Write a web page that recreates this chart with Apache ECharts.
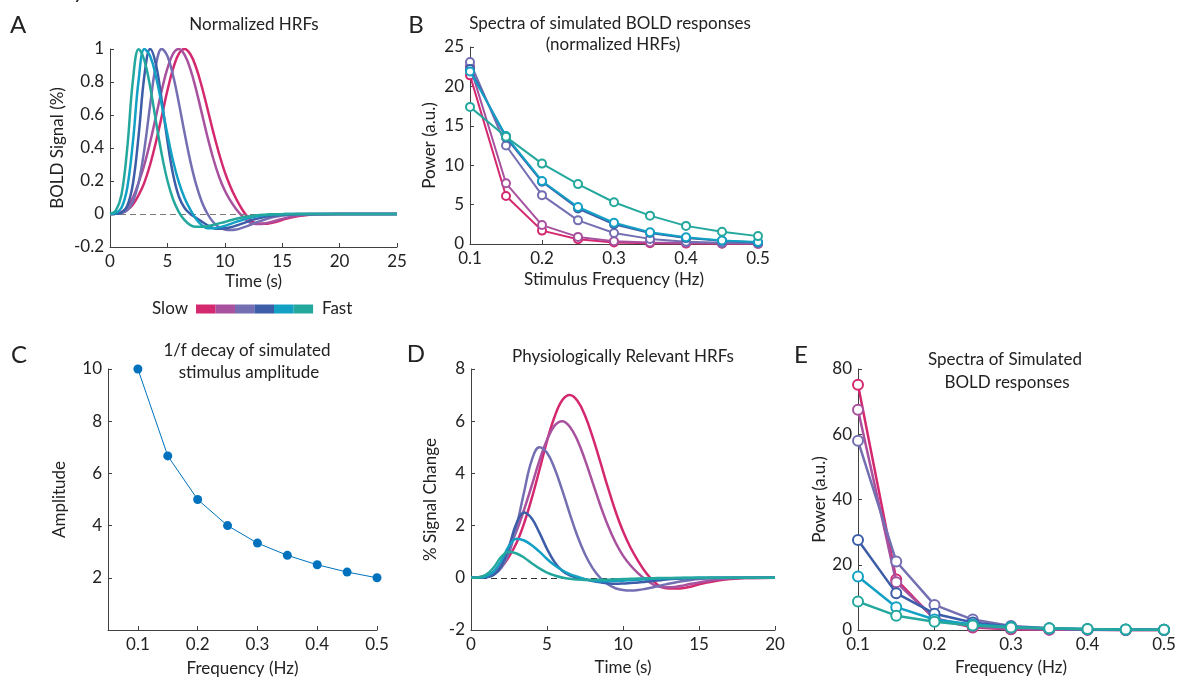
<!DOCTYPE html>
<html><head><meta charset="utf-8">
<script src="https://cdn.jsdelivr.net/npm/echarts@6/dist/echarts.min.js"></script>
<style>html,body{margin:0;padding:0;background:#fff;}#c{width:1179px;height:679px;}</style>
</head><body><div id="c"></div>
<script>
// ---------- DATA ----------
const hrfColors = ['#D4286F','#A8519F','#736FB2','#3D5DA8','#13A0C5','#24A89E']; // slow -> fast
const hrfTime = [0,0.5,1,1.5,2,2.5,3,3.5,4,4.5,5,5.5,6,6.5,7,7.5,8,8.5,9,9.5,10,10.5,11,11.5,12,12.5,13,13.5,14,14.5,15,15.5,16,16.5,17,17.5,18,20,25];

// Panel A: normalized HRFs
const normMagenta = [0,0.002,0.008,0.025,0.058,0.115,0.192,0.300,0.436,0.590,0.748,0.882,0.972,1.000,0.968,0.888,0.771,0.635,0.495,0.366,0.254,0.164,0.091,0.029,-0.019,-0.050,-0.059,-0.059,-0.055,-0.047,-0.036,-0.026,-0.018,-0.012,-0.007,-0.004,-0.002,0,0];
const normPurple = [0,0.003,0.012,0.040,0.100,0.192,0.300,0.436,0.590,0.748,0.882,0.972,1.000,0.965,0.878,0.754,0.610,0.465,0.335,0.226,0.142,0.079,0.029,-0.012,-0.044,-0.059,-0.060,-0.057,-0.049,-0.039,-0.030,-0.021,-0.014,-0.009,-0.005,-0.003,-0.001,0,0];
const normLavender = [0,0.001,0.006,0.024,0.076,0.192,0.395,0.662,0.902,1.000,0.957,0.838,0.672,0.489,0.319,0.179,0.073,0.000,-0.050,-0.080,-0.094,-0.097,-0.094,-0.084,-0.072,-0.058,-0.045,-0.033,-0.023,-0.015,-0.009,-0.006,-0.003,-0.002,-0.001,0,0,0,0];
const normBlue = [0,0.001,0.008,0.048,0.185,0.480,0.841,1.000,0.907,0.692,0.444,0.238,0.106,0.036,0.000,-0.023,-0.046,-0.069,-0.085,-0.090,-0.087,-0.080,-0.070,-0.058,-0.046,-0.034,-0.025,-0.017,-0.011,-0.007,-0.004,-0.002,-0.001,0,0,0,0,0,0];
const normCyan = [0,0.006,0.038,0.158,0.440,0.815,1.000,0.956,0.834,0.664,0.483,0.320,0.191,0.096,0.026,-0.030,-0.068,-0.086,-0.087,-0.081,-0.072,-0.060,-0.048,-0.037,-0.026,-0.018,-0.012,-0.007,-0.004,-0.002,-0.001,0,0,0,0,0,0,0,0];
const normTeal = [0,0.021,0.117,0.398,0.813,0.999,0.930,0.769,0.563,0.364,0.203,0.088,0.012,-0.037,-0.067,-0.078,-0.078,-0.074,-0.066,-0.057,-0.048,-0.038,-0.029,-0.021,-0.015,-0.010,-0.006,-0.004,-0.002,-0.001,-0.001,0,0,0,0,0,0,0,0];

// Panel D: physiologically relevant HRFs (% signal change), t = 0..20
const physMagenta = [0,0.01,0.06,0.18,0.41,0.81,1.34,2.10,3.05,4.13,5.24,6.17,6.80,7.00,6.78,6.22,5.40,4.45,3.47,2.56,1.78,1.15,0.64,0.20,-0.13,-0.35,-0.41,-0.41,-0.39,-0.33,-0.25,-0.18,-0.13,-0.08,-0.05,-0.03,-0.01,0];
const physPurple = [0,0.02,0.07,0.24,0.60,1.15,1.80,2.62,3.54,4.49,5.29,5.83,6.00,5.79,5.27,4.52,3.66,2.79,2.01,1.36,0.85,0.47,0.17,-0.07,-0.26,-0.35,-0.36,-0.34,-0.29,-0.23,-0.18,-0.13,-0.08,-0.05,-0.03,-0.02,-0.01,0];
const physLavender = [0,0.005,0.03,0.12,0.38,0.96,1.98,3.31,4.51,5.00,4.79,4.19,3.36,2.45,1.60,0.90,0.37,0.00,-0.25,-0.40,-0.47,-0.49,-0.47,-0.42,-0.36,-0.29,-0.23,-0.17,-0.12,-0.08,-0.05,-0.03,-0.02,-0.01,-0.005,0,0,0];
const physBlue = [0,0.003,0.02,0.12,0.46,1.20,2.10,2.50,2.27,1.73,1.11,0.60,0.27,0.09,0.00,-0.06,-0.12,-0.17,-0.21,-0.23,-0.22,-0.20,-0.18,-0.15,-0.12,-0.09,-0.06,-0.04,-0.03,-0.02,-0.01,-0.005,0,0,0,0,0,0];
const physCyan = [0,0.01,0.06,0.24,0.66,1.22,1.50,1.43,1.25,1.00,0.72,0.48,0.29,0.14,0.04,-0.05,-0.10,-0.13,-0.13,-0.12,-0.11,-0.09,-0.07,-0.06,-0.04,-0.03,-0.02,-0.01,-0.006,-0.003,0,0,0,0,0,0,0,0];
const physTeal = [0,0.02,0.12,0.40,0.81,1.00,0.93,0.77,0.56,0.36,0.20,0.09,0.01,-0.04,-0.07,-0.08,-0.08,-0.07,-0.07,-0.06,-0.05,-0.04,-0.03,-0.02,-0.015,-0.01,-0.006,-0.004,-0.002,-0.001,0,0,0,0,0,0,0,0];

// Stimulus frequencies (Hz)
const stimFreq = [0.1,0.15,0.2,0.25,0.3,0.35,0.4,0.45,0.5];
const freqTicks = [0.1,0.2,0.3,0.4,0.5];

// Panel B: spectra (normalized HRFs)
const specNormMagenta = [21.4,6.1,1.7,0.6,0.2,0.1,0.05,0.03,0.02];
const specNormPurple = [22.6,7.7,2.4,0.9,0.35,0.2,0.12,0.08,0.05];
const specNormLavender = [23.1,12.5,6.2,3.0,1.4,0.65,0.3,0.15,0.1];
const specNormBlue = [22.2,13.5,7.9,4.5,2.5,1.4,0.75,0.4,0.2];
const specNormCyan = [21.9,13.7,8.0,4.7,2.7,1.5,0.85,0.45,0.25];
const specNormTeal = [17.4,13.6,10.2,7.6,5.3,3.6,2.3,1.55,1.0];

// Panel C: 1/f stimulus amplitude
const amplitude = [10,6.67,5,4,3.33,2.86,2.5,2.22,2];

// Panel E: spectra (physiological HRFs)
const specPhysMagenta = [75.2,15.5,3.3,0.8,0.2,0.1,0.05,0.02,0.01];
const specPhysPurple = [67.5,14.6,3.6,1.0,0.3,0.12,0.06,0.03,0.02];
const specPhysLavender = [58.0,21.0,7.7,3.2,1.2,0.5,0.2,0.1,0.05];
const specPhysBlue = [27.6,11.3,5.0,2.3,1.0,0.45,0.2,0.1,0.05];
const specPhysCyan = [16.4,7.0,3.2,1.7,0.9,0.45,0.25,0.12,0.06];
const specPhysTeal = [8.7,4.4,2.5,1.4,0.8,0.5,0.3,0.15,0.1];

// ---------- CHART ----------
const FONT = 'Lato, "Noto Sans", sans-serif';
const INK = '#222222';
const AX = '#404040';
const FS = 17;

function axis(extra, labelExtra, tickExtra){
  const a = {
    type:'value',
    axisLine:{show:true,onZero:false,lineStyle:{color:AX,width:1}},
    axisTick:Object.assign({show:true,inside:true,length:4,lineStyle:{color:AX}}, tickExtra||{}),
    axisLabel:Object.assign({color:INK,fontSize:FS,fontFamily:FONT,margin:6}, labelExtra||{}),
    splitLine:{show:false},
    nameLocation:'middle',
    nameTextStyle:{color:INK,fontSize:FS,fontFamily:FONT}
  };
  return Object.assign(a, extra);
}
const f1 = v => (Math.round(v*10)/10).toString();

const normSets = [normMagenta,normPurple,normLavender,normBlue,normCyan,normTeal];
const physSets = [physMagenta,physPurple,physLavender,physBlue,physCyan,physTeal];
const specNormSets = [specNormMagenta,specNormPurple,specNormLavender,specNormBlue,specNormCyan,specNormTeal];
const specPhysSets = [specPhysMagenta,specPhysPurple,specPhysLavender,specPhysBlue,specPhysCyan,specPhysTeal];

const series = [];
normSets.forEach((arr,k)=>{
  series.push({type:'line', xAxisIndex:0, yAxisIndex:0, data:arr.map((v,i)=>[hrfTime[i],v]),
    showSymbol:false, smooth:0.4, lineStyle:{color:hrfColors[k],width:2.5}, itemStyle:{color:hrfColors[k]},
    markLine: k===0 ? {silent:true, symbol:'none', label:{show:false}, lineStyle:{color:'#7a7a7a',type:[6,4],width:1}, data:[{yAxis:0}]} : undefined,
    z: 3+k});
});
specNormSets.forEach((arr,k)=>{
  series.push({type:'line', xAxisIndex:1, yAxisIndex:1, data:arr.map((v,i)=>[stimFreq[i],v]),
    symbol:'emptyCircle', symbolSize:8, clip:false,
    lineStyle:{color:hrfColors[k],width:2}, itemStyle:{color:hrfColors[k],borderColor:hrfColors[k],borderWidth:1.5}, z:3+k});
});
series.push({type:'line', xAxisIndex:2, yAxisIndex:2, data:amplitude.map((v,i)=>[stimFreq[i],v]),
  symbol:'circle', symbolSize:9, clip:false, lineStyle:{color:'#0072BD',width:1}, itemStyle:{color:'#0072BD'}});
physSets.forEach((arr,k)=>{
  series.push({type:'line', xAxisIndex:3, yAxisIndex:3, data:arr.map((v,i)=>[hrfTime[i],v]),
    showSymbol:false, smooth:0.4, lineStyle:{color:hrfColors[k],width:2.5}, itemStyle:{color:hrfColors[k]},
    markLine: k===5 ? {silent:true, symbol:'none', label:{show:false}, lineStyle:{color:'#333',type:[6,4],width:1}, data:[{yAxis:0}]} : undefined,
    z: 3+k});
});
specPhysSets.forEach((arr,k)=>{
  series.push({type:'line', xAxisIndex:4, yAxisIndex:4, data:arr.map((v,i)=>[stimFreq[i],v]),
    symbol:'emptyCircle', symbolSize:10, clip:false,
    lineStyle:{color:hrfColors[k],width:2.5}, itemStyle:{color:hrfColors[k],borderColor:hrfColors[k],borderWidth:2}, z:3+k});
});

function txt(x,y,s,size,align){
  return {type:'text', x:x, y:y, style:{text:s, font:size+'px '+FONT, fill:INK, textAlign:align||'center', textVerticalAlign:'middle'}};
}
const graphics = [
  {type:'text', x:73, y:-20, style:{text:'y', font:'22px '+FONT, fill:INK, textAlign:'left', textVerticalAlign:'top'}},
  txt(18,25,'A',24), txt(416,25,'B',24), txt(19,355,'C',24), txt(416,354,'D',24), txt(801,355,'E',24),
  txt(254,25,'Normalized HRFs',FS),
  txt(610,24,'Spectra of simulated BOLD responses',FS),
  txt(613,45,'(normalized HRFs)',FS),
  txt(247,351,'1/f decay of simulated',FS),
  txt(249,373,'stimulus amplitude',FS),
  txt(623,357,'Physiologically Relevant HRFs',FS),
  txt(1005,360,'Spectra of Simulated',FS),
  txt(1007,383,'BOLD responses',FS),
  txt(188,309,'Slow',FS,'right'),
  txt(322,309,'Fast',FS,'left')
];
hrfColors.forEach((c,k)=>{
  graphics.push({type:'rect', shape:{x:196+k*19.5, y:304.5, width:19.6, height:9}, style:{fill:c}});
});

const option = {
  animation:false,
  backgroundColor:'#fff',
  textStyle:{fontFamily:FONT},
  grid:[
    {left:110, top:49, width:287, height:198},
    {left:470, top:47, width:288, height:197},
    {left:108, top:369, width:269, height:261},
    {left:471, top:369, width:304, height:261},
    {left:858, top:369, width:306, height:261}
  ],
  xAxis:[
    axis({gridIndex:0, min:0, max:25, interval:5, name:'Time (s)', nameGap:26}),
    axis({gridIndex:1, min:0.1, max:0.5, interval:0.1, name:'Stimulus Frequency (Hz)', nameGap:27}, {formatter:v=>v.toFixed(1)}),
    axis({gridIndex:2, min:0.05, max:0.5, name:'Frequency (Hz)', nameGap:30}, {customValues:freqTicks, formatter:v=>v.toFixed(1)}, {customValues:freqTicks}),
    axis({gridIndex:3, min:0, max:20, interval:5, name:'Time (s)', nameGap:29}),
    axis({gridIndex:4, min:0.1, max:0.5, interval:0.1, name:'Frequency (Hz)', nameGap:29}, {formatter:v=>v.toFixed(1)})
  ],
  yAxis:[
    axis({gridIndex:0, min:-0.2, max:1, interval:0.2, name:'BOLD Signal (%)', nameGap:44}, {formatter:f1}),
    axis({gridIndex:1, min:0, max:25, interval:5, name:'Power (a.u.)', nameGap:32}),
    axis({gridIndex:2, min:0, max:10, interval:2, name:'Amplitude', nameGap:40}, {formatter:v=>v===0?'':String(v)}),
    axis({gridIndex:3, min:-2, max:8, interval:2, name:'% Signal Change', nameGap:32}),
    axis({gridIndex:4, min:0, max:80, interval:20, name:'Power (a.u.)', nameGap:25})
  ],
  series:series,
  graphic:graphics
};
const chart = echarts.init(document.getElementById('c'), null, {renderer:'canvas'});
chart.setOption(option);
</script>
</body></html>
